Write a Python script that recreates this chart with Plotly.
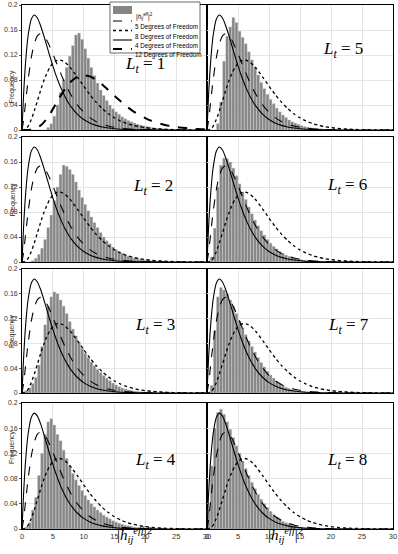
"""Histograms of |h_ij^eff|^2 for L_t = 1..8 with chi-square reference curves."""

import plotly.graph_objects as go
from plotly.subplots import make_subplots

W, H = 398, 554
BIN_WIDTH = 0.5

# Histogram frequencies, one value per 0.5-wide bin starting at 0
HIST_LT1 = [0, 0, 0, 0, 0, 0, 0, 0,
            0.004, 0.010, 0.022, 0.040, 0.060, 0.080, 0.100, 0.118, 0.135, 0.152,
            0.155, 0.145, 0.130, 0.115, 0.100, 0.087, 0.075, 0.064, 0.055, 0.047,
            0.040, 0.034, 0.029, 0.025, 0.021, 0.018, 0.015, 0.013, 0.011, 0.009,
            0.008, 0.0065, 0.0055, 0.0045, 0.0035, 0.003, 0.0025, 0.002, 0.0015,
            0.0012, 0.001, 0.0008, 0.0006, 0.0005, 0.0004, 0.0003]
HIST_LT2 = [0, 0, 0,
            0.002, 0.006, 0.012, 0.022, 0.036, 0.055, 0.075, 0.098, 0.120, 0.140,
            0.155, 0.153, 0.148, 0.140, 0.128, 0.115, 0.103, 0.092, 0.082, 0.072,
            0.063, 0.055, 0.047, 0.040, 0.034, 0.029, 0.024, 0.020, 0.017, 0.014,
            0.011, 0.009, 0.0075, 0.006, 0.005, 0.004, 0.003, 0.0025, 0.002,
            0.0015, 0.001, 0.0008, 0.0005]
HIST_LT3 = [0.002, 0.004, 0.008, 0.015, 0.025, 0.045, 0.075, 0.110, 0.140, 0.155,
            0.163, 0.160, 0.150, 0.140, 0.128, 0.115, 0.103, 0.092, 0.082, 0.072,
            0.064, 0.057, 0.050, 0.044, 0.038, 0.033, 0.028, 0.024, 0.020, 0.016,
            0.013, 0.010, 0.008, 0.0065, 0.005, 0.004, 0.003, 0.0025, 0.002,
            0.0015, 0.001, 0.0006]
HIST_LT4 = [0, 0.003, 0.010, 0.030, 0.050, 0.085, 0.120, 0.150, 0.170, 0.175,
            0.165, 0.150, 0.140, 0.125, 0.112, 0.100, 0.088, 0.078, 0.069, 0.061,
            0.053, 0.046, 0.040, 0.035, 0.030, 0.026, 0.022, 0.019, 0.016, 0.013,
            0.011, 0.009, 0.0075, 0.006, 0.005, 0.004, 0.003, 0.0025, 0.002,
            0.0015, 0.001, 0.0006]
HIST_LT5 = [0, 0, 0,
            0.010, 0.045, 0.110, 0.150, 0.165, 0.180, 0.172, 0.158, 0.148, 0.138,
            0.125, 0.112, 0.100, 0.088, 0.076, 0.066, 0.057, 0.049, 0.042, 0.035,
            0.029, 0.024, 0.020, 0.016, 0.013, 0.011, 0.009, 0.007, 0.0055,
            0.0045, 0.0035, 0.003, 0.0025, 0.002, 0.0015, 0.001]
HIST_LT6 = [0, 0.008, 0.054, 0.120, 0.155, 0.166, 0.165, 0.160, 0.150, 0.138,
            0.125, 0.112, 0.100, 0.088, 0.077, 0.067, 0.058, 0.050, 0.043, 0.036,
            0.030, 0.025, 0.021, 0.017, 0.014, 0.011, 0.009, 0.007, 0.0055,
            0.0045, 0.0035, 0.0025, 0.002, 0.0015, 0.001]
HIST_LT7 = [0, 0.012, 0.100, 0.155, 0.170, 0.166, 0.160, 0.150, 0.140, 0.128,
            0.116, 0.105, 0.094, 0.084, 0.075, 0.066, 0.057, 0.049, 0.042, 0.035,
            0.029, 0.024, 0.019, 0.015, 0.012, 0.009, 0.007, 0.0055, 0.004,
            0.003, 0.0025, 0.002, 0.0015, 0.001]
HIST_LT8 = [0.030, 0.100, 0.160, 0.185, 0.190, 0.182, 0.170, 0.158, 0.145, 0.132,
            0.120, 0.108, 0.096, 0.085, 0.074, 0.064, 0.055, 0.047, 0.040, 0.034,
            0.028, 0.023, 0.019, 0.015, 0.012, 0.010, 0.008, 0.006, 0.0045,
            0.0035, 0.0025, 0.002, 0.0015, 0.001]

# Reference chi-square densities sampled along x
CURVE_X = [0, 0.25, 0.5, 0.75, 1, 1.5, 2, 2.5, 3, 3.5, 4, 4.5, 5, 5.5, 6, 6.5, 7,
           7.5, 8, 9, 10, 11, 12, 13, 14, 15, 16, 17, 18, 19, 20, 21, 22, 23, 24,
           25, 26, 27, 28, 29, 30]
PDF_DOF4 = [0, 0.0552, 0.0974, 0.1289, 0.1516, 0.1771, 0.1839, 0.1791, 0.1673,
            0.1521, 0.1353, 0.1186, 0.1026, 0.0879, 0.0747, 0.0630, 0.0529, 0.0441,
            0.0366, 0.0250, 0.0168, 0.0112, 0.0074, 0.0049, 0.0032, 0.0021, 0.0013,
            0.0009, 0.0006, 0.0004, 0.0002, 0.0002, 0.0001, 0.0001, 0, 0, 0, 0, 0,
            0, 0]
PDF_DOF5 = [0, 0.0147, 0.0366, 0.0594, 0.0807, 0.1154, 0.1384, 0.1506, 0.1542,
            0.1513, 0.1440, 0.1338, 0.1220, 0.1096, 0.0973, 0.0854, 0.0744, 0.0642,
            0.0551, 0.0399, 0.0283, 0.0198, 0.0137, 0.0094, 0.0064, 0.0043, 0.0029,
            0.0019, 0.0013, 0.0008, 0.0005, 0.0003, 0.0002, 0.0001, 0.0001, 0, 0,
            0, 0, 0, 0]
PDF_DOF8 = [0, 0.0001, 0.0010, 0.0030, 0.0063, 0.0166, 0.0307, 0.0466, 0.0628,
            0.0776, 0.0902, 0.1000, 0.1069, 0.1108, 0.1120, 0.1109, 0.1079, 0.1034,
            0.0977, 0.0843, 0.0702, 0.0567, 0.0446, 0.0344, 0.0261, 0.0194, 0.0143,
            0.0104, 0.0075, 0.0054, 0.0038, 0.0027, 0.0019, 0.0013, 0.0009, 0.0006,
            0.0004, 0.0003, 0.0002, 0.0001, 0.0001]
PDF_DOF12 = [0, 0, 0, 0, 0.0001, 0.0005, 0.0015, 0.0036, 0.0071, 0.0119, 0.0180,
             0.0253, 0.0334, 0.0419, 0.0504, 0.0586, 0.0661, 0.0727, 0.0781, 0.0853,
             0.0877, 0.0858, 0.0804, 0.0727, 0.0639, 0.0547, 0.0458, 0.0375, 0.0303,
             0.0241, 0.0189, 0.0146, 0.0112, 0.0085, 0.0064, 0.0047, 0.0035, 0.0026,
             0.0019, 0.0013, 0.0010]

# (L_t, histogram, row, col, label x, label y)
PANELS = [
    (1, HIST_LT1, 1, 1, 20.0, 0.104),
    (2, HIST_LT2, 2, 1, 21.3, 0.120),
    (3, HIST_LT3, 3, 1, 21.6, 0.108),
    (4, HIST_LT4, 4, 1, 21.7, 0.108),
    (5, HIST_LT5, 1, 2, 21.9, 0.128),
    (6, HIST_LT6, 2, 2, 22.6, 0.122),
    (7, HIST_LT7, 3, 2, 22.9, 0.108),
    (8, HIST_LT8, 4, 2, 22.6, 0.108),
]

CURVES = [
    ("5 Degrees of Freedom", PDF_DOF5, dict(color="black", width=1.1, dash="dash")),
    ("8 Degrees of Freedom", PDF_DOF8, dict(color="black", width=1.3, dash="dot")),
    ("4 Degrees of Freedom", PDF_DOF4, dict(color="black", width=1.1)),
    ("12 Degrees of Freedom", PDF_DOF12, dict(color="black", width=2, dash="dash")),
]

# panel pixel boxes (top, bottom) per row and (left, right) per column
ROW_PX = [(5, 130), (137, 262), (269, 393), (403, 529)]
COL_PX = [(22, 207), (207, 393)]

BAR_NAME = "|<i>h</i><sub><i>ij</i></sub><sup><i>eff</i></sup>|<sup>2</sup>"
BAR_COLOR = "#858585"


def px_x(px):
    return px / W


def px_y(py):
    return 1 - py / H


fig = make_subplots(rows=4, cols=2, horizontal_spacing=0, vertical_spacing=0.01)

for lt, hist, row, col, lx, ly in PANELS:
    n = (row - 1) * 2 + col
    sfx = "" if n == 1 else str(n)
    centers = [BIN_WIDTH * (i + 0.5) for i in range(len(hist))]
    fig.add_trace(go.Bar(
        x=centers, y=hist, width=BIN_WIDTH * 0.88,
        marker=dict(color=BAR_COLOR, line=dict(color="#bdbdbd", width=0.4)),
        name=BAR_NAME,
    ), row=row, col=col)
    for name, pdf, style in CURVES:
        if name.startswith("12") and lt != 1:
            continue
        fig.add_trace(go.Scatter(
            x=CURVE_X, y=pdf, mode="lines",
            line=dict(shape="spline", smoothing=0.6, **style), name=name,
        ), row=row, col=col)
    fig.add_annotation(
        x=lx, y=ly, xref=f"x{sfx}", yref=f"y{sfx}",
        text=f"<i>L</i><sub><i>t</i></sub> = {lt}", showarrow=False,
        font=dict(family="Liberation Serif", size=17, color="black"),
    )

for row in range(1, 5):
    top, bot = ROW_PX[row - 1]
    for col in range(1, 3):
        n = (row - 1) * 2 + col
        left, right = COL_PX[col - 1]
        sfx = "" if n == 1 else str(n)
        fig.layout[f"xaxis{sfx}"].update(
            domain=[px_x(left), px_x(right)], range=[0, 30], automargin=False,
            tickvals=[0, 5, 10, 15, 20, 25, 30],
            ticktext=["0", "5", "10", "15", "20", "25", "30"],
            showticklabels=row == 4, ticks="",
            tickfont=dict(family="Liberation Sans", size=7.5, color="#333"),
            showgrid=True, gridcolor="#e4e4e4", gridwidth=1, zeroline=False,
            showline=True, linecolor="black", linewidth=0.8, mirror=True,
        )
        fig.layout[f"yaxis{sfx}"].update(
            domain=[px_y(bot), px_y(top)], range=[0, 0.2], automargin=False,
            tickvals=[0, 0.04, 0.08, 0.12, 0.16, 0.2],
            ticktext=["0", "0.04", "0.08", "0.12", "0.16", "0.2"],
            showticklabels=col == 1, ticks="outside" if col == 1 else "", ticklen=2,
            tickcolor="#555",
            tickfont=dict(family="Liberation Sans", size=7, color="#333"),
            showgrid=True, gridcolor="#e4e4e4", gridwidth=1, zeroline=False,
            showline=True, linecolor="black", linewidth=0.8, mirror=True,
        )
    fig.add_annotation(
        x=px_x(6), y=px_y((top + bot) / 2), xref="paper", yref="paper",
        text="Frequency", textangle=-90, showarrow=False,
        font=dict(family="Liberation Sans", size=7, color="#333"),
    )

for cx in (115, 305):
    fig.add_annotation(
        x=px_x(cx), y=px_y(547), xref="paper", yref="paper",
        text=BAR_NAME, showarrow=False,
        font=dict(family="Liberation Serif", size=15, color="black"),
    )

# Legend box in the top-left panel (drawn by hand so it stays compact)
LEG_LEFT, LEG_RIGHT, LEG_TOP, LEG_BOTTOM = 110, 200, 2, 53
LEG_ROWS = [10, 21, 30.5, 40, 49]
fig.add_shape(type="rect", xref="paper", yref="paper",
              x0=px_x(LEG_LEFT), x1=px_x(LEG_RIGHT), y0=px_y(LEG_BOTTOM), y1=px_y(LEG_TOP),
              fillcolor="white", line=dict(color="#444", width=0.8), layer="above")
fig.add_shape(type="rect", xref="paper", yref="paper",
              x0=px_x(113), x1=px_x(132), y0=px_y(LEG_ROWS[0] + 4), y1=px_y(LEG_ROWS[0] - 4),
              fillcolor=BAR_COLOR, line=dict(width=0), layer="above")
fig.add_annotation(x=px_x(134), y=px_y(LEG_ROWS[0]), xref="paper", yref="paper",
                   xanchor="left", text=BAR_NAME, showarrow=False,
                   font=dict(family="Liberation Sans", size=6.3, color="black"))
for (name, _, style), py in zip(CURVES, LEG_ROWS[1:]):
    fig.add_shape(type="line", xref="paper", yref="paper",
                  x0=px_x(113), x1=px_x(132), y0=px_y(py), y1=px_y(py),
                  line=style, layer="above")
    fig.add_annotation(x=px_x(133), y=px_y(py), xref="paper", yref="paper",
                       xanchor="left", text=name, showarrow=False,
                       font=dict(family="Liberation Sans", size=6.3, color="black"))

fig.update_layout(
    width=W, height=H,
    margin=dict(l=0, r=0, t=0, b=0),
    paper_bgcolor="white", plot_bgcolor="white",
    bargap=0.1, showlegend=False,
)

# the page's default body margin would shift the figure by 8px
fig.write_html("out.html", config={"displayModeBar": False},
               post_script="document.body.style.margin = '0';")
